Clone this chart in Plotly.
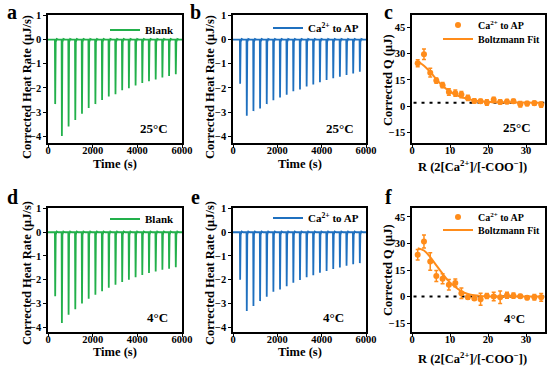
import plotly.graph_objects as go

# ---------------- data ----------------
inj_times = [310, 610, 910, 1210, 1510, 1810, 2110, 2410, 2710, 3010,
             3310, 3610, 3910, 4210, 4510, 4810, 5110, 5410, 5710]

peaks_a = [-2.67, -3.99, -3.60, -3.33, -3.07, -2.83, -2.67, -2.50, -2.35, -2.26,
           -2.10, -2.01, -1.90, -1.80, -1.72, -1.65, -1.57, -1.51, -1.43]
peaks_b = [-1.83, -3.15, -2.96, -2.85, -2.67, -2.51, -2.40, -2.28, -2.14, -2.06,
           -1.94, -1.86, -1.76, -1.67, -1.60, -1.54, -1.46, -1.40, -1.33]
peaks_d = [-2.69, -3.82, -3.47, -3.24, -3.00, -2.80, -2.63, -2.48, -2.34, -2.21,
           -2.10, -2.00, -1.89, -1.80, -1.72, -1.65, -1.58, -1.54, -1.47]
peaks_e = [-2.00, -3.32, -3.11, -2.90, -2.72, -2.51, -2.41, -2.27, -2.13, -2.01,
           -1.90, -1.81, -1.71, -1.63, -1.55, -1.48, -1.41, -1.35, -1.30]

R_c = [1.5, 3.15, 4.8, 6.4, 8.05, 9.7, 11.4, 13.0, 14.7, 16.4,
       18.05, 19.7, 21.5, 23.2, 25.0, 26.7, 28.5, 30.3, 32.2, 34.0]
Q_c = [24.5, 29.6, 19.1, 14.6, 12.0, 8.1, 7.4, 6.6, 4.7, 3.0,
       2.8, 2.1, 3.6, 2.4, 2.6, 2.8, 1.1, 1.5, 1.7, 0.9]
err_c = [2.0, 3.0, 2.5, 1.5, 1.5, 1.8, 1.8, 1.8, 1.5, 1.2,
         1.2, 1.5, 1.5, 1.2, 1.2, 1.2, 1.5, 1.2, 1.2, 1.5]
fit_c_x = [1.5, 3.15, 4.8, 6.4, 8.05, 9.7, 11.4, 13.0, 14.7, 16.4, 18.05, 19.7, 21.5, 23.2, 25.0, 28.5, 34.0]
fit_c_y = [25.8, 23.0, 19.5, 15.4, 11.6, 8.7, 6.6, 5.2, 4.1, 3.3, 2.8, 2.5, 2.3, 2.2, 2.1, 2.05, 2.0]

R_f = R_c
Q_f = [23.6, 31.1, 19.8, 11.6, 10.1, 6.7, 7.7, 1.9, -0.4, -1.1,
       -1.5, 0.3, 0.0, -0.4, 0.7, 0.5, 0.2, -0.6, -0.4, -0.4]
err_f = [3.0, 3.7, 5.0, 3.1, 2.8, 3.0, 2.2, 3.0, 1.1, 1.0,
         3.4, 1.4, 2.4, 3.5, 1.7, 1.5, 1.0, 1.0, 1.5, 2.2]
fit_f_x = [1.5, 3.15, 4.8, 6.4, 8.05, 9.7, 11.4, 13.0, 14.7, 16.4, 18.05, 19.7, 23.2, 28.5, 34.0]
fit_f_y = [27.3, 26.0, 22.3, 17.6, 12.9, 8.6, 5.4, 3.0, 1.5, 0.7, 0.3, 0.1, 0.0, 0.0, 0.0]

baseline_c = [2.0]
baseline_f = [0.0]

GREEN = "#22b04b"
BLUE = "#1f70bf"
ORANGE = "#ff8c1a"
FONT = "Liberation Serif"


def itc_line(times, peaks):
    xs, ys = [0], [0.0]
    for t, p in zip(times, peaks):
        xs += [t, t + 12, t + 35, t + 80, t + 150]
        ys += [0.0, p, -0.10, 0.03, 0.0]
    xs.append(6000)
    ys.append(0.0)
    return xs, ys


fig = go.Figure()

itc_sets = [
    (peaks_a, GREEN, "Blank", "x", "y", "legend"),
    (peaks_b, BLUE, "Ca<sup>2+</sup> to AP", "x2", "y2", "legend2"),
    (peaks_d, GREEN, "Blank", "x4", "y4", "legend4"),
    (peaks_e, BLUE, "Ca<sup>2+</sup> to AP", "x5", "y5", "legend5"),
]
for peaks, col, name, xa, ya, lg in itc_sets:
    xs, ys = itc_line(inj_times, peaks)
    fig.add_trace(go.Scatter(x=xs, y=ys, mode="lines", name=name,
                             line=dict(color=col, width=1.8),
                             xaxis=xa, yaxis=ya, legend=lg))

q_sets = [
    (R_c, Q_c, err_c, fit_c_x, fit_c_y, baseline_c, "x3", "y3", "legend3", "legend7"),
    (R_f, Q_f, err_f, fit_f_x, fit_f_y, baseline_f, "x6", "y6", "legend6", "legend8"),
]
for R, Q, E, fx, fy, bl, xa, ya, lg, lg2 in q_sets:
    fig.add_trace(go.Scatter(x=[0.4, 34.8], y=[bl[0], bl[0]], mode="lines",
                             line=dict(color="black", width=2, dash="3px,5px"),
                             showlegend=False, xaxis=xa, yaxis=ya))
    fig.add_trace(go.Scatter(x=R, y=Q, mode="markers", name="Ca<sup>2+</sup> to AP",
                             marker=dict(color=ORANGE, size=6),
                             error_y=dict(type="data", array=E, color=ORANGE,
                                          thickness=1.5, width=2),
                             xaxis=xa, yaxis=ya, legend=lg))
    fig.add_trace(go.Scatter(x=fx, y=fy, mode="lines", name="Boltzmann Fit",
                             line=dict(color=ORANGE, width=2, shape="spline"),
                             xaxis=xa, yaxis=ya, legend=lg2))

W, H = 550, 369


def px(v):
    return v / W


def py(v):
    return 1 - v / H


cols = [(48, 182), (233, 366), (412, 545)]
rows = [(15, 143), (208, 332)]

tickfont = dict(family=FONT, size=10.5, color="black", weight="bold")
axis_common = dict(showline=True, linecolor="black", linewidth=1.5, mirror=True,
                   ticks="outside", ticklen=3, tickwidth=1.2, tickcolor="black",
                   showgrid=False, zeroline=False, tickfont=tickfont, automargin=False)

layout = {}
idx = 0
for r, (top, bot) in enumerate(rows):
    for c, (left, right) in enumerate(cols):
        idx += 1
        xn = "xaxis" if idx == 1 else f"xaxis{idx}"
        yn = "yaxis" if idx == 1 else f"yaxis{idx}"
        xref = "x" if idx == 1 else f"x{idx}"
        yref = "y" if idx == 1 else f"y{idx}"
        if c < 2:
            xa = dict(range=[0, 6000], tickvals=[0, 2000, 4000, 6000])
            ya = dict(range=[-4.28, 1.02] if r == 0 else [-4.2, 1.02],
                      tickvals=[1, 0, -1, -2, -3, -4])
        else:
            xa = dict(range=[0, 35], tickvals=[0, 10, 20, 30])
            ya = dict(range=[-21, 52] if r == 0 else [-20, 50],
                      tickvals=[-15, 0, 15, 30, 45])
        xa.update(axis_common, domain=[px(left), px(right)], anchor=yref,
                  ticklabelstandoff=-6)
        ya.update(axis_common, domain=[py(bot), py(top)], anchor=xref)
        layout[xn] = xa
        layout[yn] = ya

# (left x of legend box, centre y of item, font size)
legend_pos = {
    "legend": (105, 30, 11),
    "legend2": (268, 28, 11),
    "legend3": (438, 25, 10),
    "legend7": (438, 39, 10),
    "legend4": (105, 219, 11),
    "legend5": (268, 218, 11),
    "legend6": (438, 217, 10),
    "legend8": (438, 230, 10),
}
for name, (lx, ly, fsize) in legend_pos.items():
    layout[name] = dict(x=px(lx), y=py(ly), xanchor="left", yanchor="middle",
                        bgcolor="rgba(0,0,0,0)", borderwidth=0,
                        font=dict(family=FONT, size=fsize, color="black", weight="bold"),
                        itemwidth=30, tracegroupgap=0)

fig.update_layout(width=W, height=H,
                  margin=dict(l=0, r=0, t=0, b=0, pad=0, autoexpand=False),
                  paper_bgcolor="white", plot_bgcolor="white",
                  font=dict(family=FONT, color="black", weight="bold"),
                  **layout)

ann = []


def add_text(x, y, text, size, angle=0):
    ann.append(dict(x=px(x), y=py(y), xref="paper", yref="paper", text=text,
                    showarrow=False, textangle=angle, xanchor="center", yanchor="middle",
                    font=dict(family=FONT, size=size, color="black", weight="bold")))


# panel letters
for (x, y, t) in [(12, 12, "a"), (195, 12, "b"), (388, 12, "c"),
                  (12, 197, "d"), (195, 197, "e"), (388, 197, "f")]:
    add_text(x, y, t, 20)

# temperature labels
for (x, y, t) in [(154, 128, "25°C"), (340, 128, "25°C"), (517, 127, "25°C"),
                  (157, 317, "4°C"), (333, 317, "4°C"), (514, 318, "4°C")]:
    add_text(x, y, t, 13)

# x titles
for (x, y, t) in [(115, 164, "Time (s)"), (300, 164, "Time (s)"),
                  (472, 166, "R (2[Ca<sup>2+</sup>]/[-COO<sup>−</sup>])"),
                  (115, 352, "Time (s)"), (300, 352, "Time (s)"),
                  (472, 358, "R (2[Ca<sup>2+</sup>]/[-COO<sup>−</sup>])")]:
    add_text(x, y, t, 12.5)

# y titles
for (x, y, t) in [(27, 87, "Corrected Heat Rate (μJ/s)"), (210, 87, "Corrected Heat Rate (μJ/s)"),
                  (388, 80, "Corrected Q (μJ)"),
                  (27, 273, "Corrected Heat Rate (μJ/s)"), (210, 273, "Corrected Heat Rate (μJ/s)"),
                  (388, 270, "Corrected Q (μJ)")]:
    add_text(x, y, t, 12.5, angle=-90)

fig.update_layout(annotations=ann)
fig.write_html("out.html", config={"displayModeBar": False},
               post_script="document.body.style.margin='0';document.body.style.overflow='hidden';")
